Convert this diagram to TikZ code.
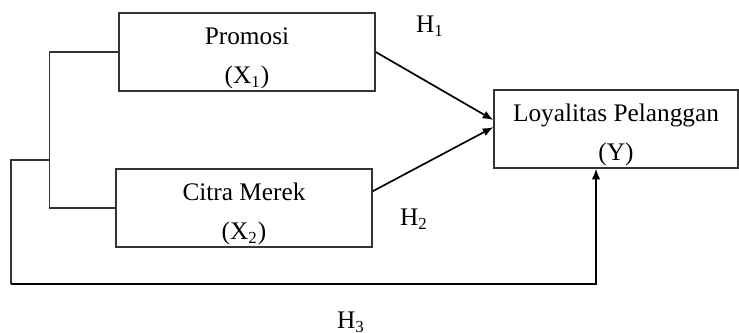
\documentclass[tikz,border=0pt]{standalone}
\usepackage{fontspec}
\setmainfont{Liberation Serif}
\usepackage{tikz}
\usetikzlibrary{arrows.meta}

\tikzset{
  varbox/.style={draw=black!80, line width=0.7pt, minimum width=4.267cm, minimum height=1.3cm,
    inner ysep=0pt, align=center, font=\fontsize{12}{18.5}\selectfont},
  hyplabel/.style={font=\fontsize{12}{14}\selectfont},
  effect/.style={line width=0.8pt, -{Latex[length=5pt,width=4pt]}}
}

\begin{document}
\begin{tikzpicture}
    \useasboundingbox (0,0) rectangle (12.317,-5.55);

    \node[varbox] (promosi) at (4.117,-0.867) {\rule{0pt}{14pt}Promosi\\(X\textsubscript{1})};
    \node[varbox] (citra) at (4.067,-3.467) {\rule{0pt}{14pt}Citra Merek\\(X\textsubscript{2})};
    \node[varbox, minimum width=4.067cm] (loyal) at (10.267,-2.15) {\rule{0pt}{14pt}Loyalitas Pelanggan\\(Y)};

    \node[hyplabel] (h1) at (7.167,-0.433) {H\textsubscript{1}};
    \node[hyplabel] (h2) at (6.9,-3.65) {H\textsubscript{2}};
    \node[hyplabel] (h3) at (5.85,-5.37) {H\textsubscript{3}};

    % bracket joining X1 and X2
    \coordinate (join) at (0.833,-2.667);
    \coordinate (corner) at (0.183,-4.733);
    \draw[black!80, line width=0.5pt] (promosi.west) -- ++(-1.15,0) |- (citra.west);

    % direct effects
    \draw[effect] (promosi.east) -- ([yshift=0.15cm]loyal.west);
    \draw[effect] ([yshift=0.28cm]citra.east) -- ([yshift=0.03cm]loyal.west);

    % simultaneous effect
    \draw[black!80, line width=0.5pt] (join) -| (corner);
    \draw[effect] (corner) -| ([xshift=-0.333cm]loyal.south);
\end{tikzpicture}
\end{document}
